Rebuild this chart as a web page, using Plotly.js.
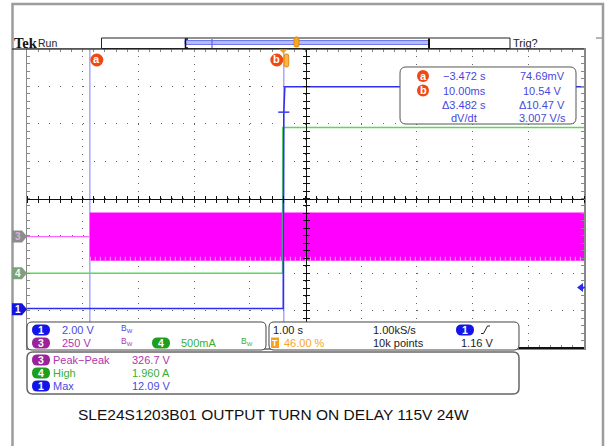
<!DOCTYPE html>
<html><head><meta charset="utf-8">
<script src="https://cdn.plot.ly/plotly-3.0.1.min.js"></script>
<style>html,body{margin:0;padding:0;background:#fff;overflow:hidden}#c{width:607px;height:446px}</style>
</head><body><div id="c"></div>
<script>
// ---------- values read from the scope capture ----------
const secPerDiv = 1.0;
const trigPosPct = 46.0;
const ch1VoltsPerDiv = 2.0, ch3VoltsPerDiv = 250, ch4AmpsPerDiv = 0.5;
const ch1OffsetDiv = -2.96, ch3OffsetDiv = -1.02, ch4OffsetDiv = -2.0;

const ch1Time  = [-4.6, 0.0, 0.004, 0.010, 0.030, 5.4];
const ch1Volts = [0.03, 0.03, 6.0, 10.54, 11.9, 11.9];

const ch4Time = [-4.6, -0.012, -0.008, 5.4];
const ch4Amps = [0.0, 0.0, 1.95, 1.95];

const ch3IdleTime  = [-4.6, -3.472];
const ch3IdleVolts = [0, 0];
const ch3BandTime  = [-3.472, 5.4];
const ch3BandHigh  = [162, 162];
const ch3BandLow   = [-162, -162];

const cursorTime = [-3.472, 0.010];
const cursorLabel = ['a', 'b'];
const cursorCh1Volts = [0.07469, 10.54];
const trigTime = 0.0;
const trigLevelVolts = 1.16;

const readIcon = ['a', 'b', '', ''];
const readCol2 = ['\u22123.472 s', '10.00ms', '\u03943.482 s', 'dV/dt'];
const readCol3 = ['74.69mV', '10.54 V', '\u039410.47 V', '3.007 V/s'];

const scaleCh   = ['1', '3', '4'];
const scaleText = ['2.00 V', '250 V', '500mA'];

const horizText = ['1.00 s', '46.00 %', '1.00kS/s', '10k points', '1.16 V'];

const measCh    = ['3', '4', '1'];
const measName  = ['Peak\u2212Peak', 'High', 'Max'];
const measValue = ['326.7 V', '1.960 A', '12.09 V'];

const titleText = 'SLE24S1203B01 OUTPUT TURN ON DELAY 115V 24W';

// ---------- helpers ----------
const L = 27, R = 584, T = 49, B = 348;
const px = x => (x - L) / (R - L);
const py = y => (B - y) / (B - T);
const tCenter = (50 - trigPosPct) / 100 * 10 * secPerDiv;
const tDiv = t => (t - tCenter) / secPerDiv;
const v1 = v => v / ch1VoltsPerDiv + ch1OffsetDiv;
const v3 = v => v / ch3VoltsPerDiv + ch3OffsetDiv;
const i4 = a => a / ch4AmpsPerDiv + ch4OffsetDiv;

const chColor = {'1': '#1414e8', '3': '#9c229c', '4': '#1e9e1e'};
const chText  = {'1': '#4a4ae0', '3': '#b036b0', '4': '#36b036'};
const FONT = 'Liberation Sans, Arial, sans-serif';

const shapes = [];
const ann = [];
function P(x, y) { return px(x).toFixed(5) + ',' + py(y).toFixed(5); }
function poly(pts, close) { return pts.map((p, i) => (i ? 'L' : 'M') + P(p[0], p[1])).join('') + (close ? 'Z' : ''); }
function rr(x0, y0, x1, y1, r) {
  return 'M' + P(x0 + r, y0) + 'L' + P(x1 - r, y0) + 'Q' + P(x1, y0) + ' ' + P(x1, y0 + r) +
    'L' + P(x1, y1 - r) + 'Q' + P(x1, y1) + ' ' + P(x1 - r, y1) + 'L' + P(x0 + r, y1) +
    'Q' + P(x0, y1) + ' ' + P(x0, y1 - r) + 'L' + P(x0, y0 + r) + 'Q' + P(x0, y0) + ' ' + P(x0 + r, y0) + 'Z';
}
function path(d, fill, lc, lw, layer) {
  shapes.push({type: 'path', xref: 'paper', yref: 'paper', path: d, fillcolor: fill || 'rgba(0,0,0,0)',
    line: {color: lc || 'rgba(0,0,0,0)', width: lw === undefined ? 1 : lw}, layer: layer || 'above'});
}
function line(x0, y0, x1, y1, c, w) {
  shapes.push({type: 'line', xref: 'paper', yref: 'paper', x0: px(x0), x1: px(x1), y0: py(y0), y1: py(y1),
    line: {color: c, width: w}, layer: 'above'});
}
function rect(x0, y0, x1, y1, fill, lc, lw) {
  shapes.push({type: 'rect', xref: 'paper', yref: 'paper', x0: px(x0), x1: px(x1), y0: py(y1), y1: py(y0),
    fillcolor: fill || 'rgba(0,0,0,0)', line: {color: lc || 'rgba(0,0,0,0)', width: lw || 0}, layer: 'above'});
}
function circ(cx, cy, r, fill) {
  shapes.push({type: 'circle', xref: 'paper', yref: 'paper', x0: px(cx - r), x1: px(cx + r), y0: py(cy + r), y1: py(cy - r),
    fillcolor: fill, line: {width: 0}, layer: 'above'});
}
function txt(x, y, text, size, color, anchor, family) {
  ann.push({xref: 'paper', yref: 'paper', x: px(x), y: py(y), text: text, showarrow: false,
    xanchor: anchor || 'left', yanchor: 'middle', borderpad: 0,
    font: {family: family || FONT, size: size, color: color}});
}
function pill(cx, cy, ch) {
  path(rr(cx - 9, cy - 5.5, cx + 9, cy + 5.5, 5.5), chColor[ch], chColor[ch], 0);
  txt(cx, cy, '<b>' + ch + '</b>', 10.5, '#ffffff', 'center');
}

// ---------- frame and top bar ----------
path(poly([[12.5, 470], [12.5, 4], [603, 4], [603, 470]], false), null, '#9c9c9c', 2.5);
line(596, 38, 603, 38, '#9c9c9c', 1.5);
line(12, 49, 584, 49, '#444', 1.5);
txt(13, 43, '<b>Tek</b>', 14.5, '#111', 'left', 'Liberation Serif, serif');
txt(37, 43, 'Run', 10.5, '#222');
rect(101.5, 38, 510, 48.5, '#fff', '#222', 1);
rect(185, 40.5, 429, 44.5, '#b4bcf6', '#7078ee', 1);
line(212, 39, 212, 48, '#5b64ee', 1.2);
path(poly([[188, 39], [185.5, 39], [185.5, 48], [188, 48]], false), null, '#111', 1.5);
line(429, 38.5, 429, 48, '#111', 2);
path(rr(294, 37, 299, 47, 2), '#f5a623', '#d98a10', 1);
txt(512, 43.5, 'Trig?', 11, '#222');

// cursor labels
cursorTime.forEach((t, k) => {
  const xPix = L + (tDiv(t) + 5) / 10 * (R - L);
  const cx = k === 0 ? xPix + 7 : xPix - 7;
  circ(cx, 60, 6.5, '#f04812');
  txt(cx, 59.5, '<b>' + cursorLabel[k] + '</b>', 11, '#fff', 'center');
});
// trigger marker
{
  const tp = L + (tDiv(trigTime) + 5) / 10 * (R - L);
  path(poly([[tp - 4, 49.5], [tp + 4, 49.5], [tp, 53.5]], true), '#f5a020', '#f5a020', 0);
  path(rr(tp + 1, 54, tp + 5.5, 67, 2), '#f7b545', '#e08c10', 1);
}

// left channel markers
function chMarker(yDiv, ch, fill, tc) {
  const yPix = (B + T) / 2 - yDiv * (B - T) / 8;
  path(poly([[12, yPix - 6], [22, yPix - 6], [27, yPix], [22, yPix + 6], [12, yPix + 6]], true), fill, fill, 0);
  txt(18, yPix, '<b>' + ch + '</b>', 10, tc, 'center');
}
chMarker(ch3OffsetDiv, '3', '#8c8c8c', '#d7b4d7');
chMarker(ch4OffsetDiv, '4', '#7f9f7f', '#e8ffe8');
chMarker(ch1OffsetDiv, '1', '#1414e0', '#ffffff');

// trigger level arrow (right edge)
{
  const yPix = (B + T) / 2 - v1(trigLevelVolts) * (B - T) / 8;
  path(poly([[577, yPix], [583, yPix - 4.5], [583, yPix + 4.5]], true), '#2a2af0', '#2a2af0', 0);
  line(580, yPix, 585, yPix, '#2a2af0', 1.5);
}

// graticule bottom-right heavy edge
line(519, 348, 584, 348, '#111', 2);

// cursor lines (between grid and traces)
cursorTime.forEach(t => {
  shapes.push({type: 'line', xref: 'x', yref: 'paper', x0: tDiv(t), x1: tDiv(t), y0: 0, y1: 1,
    line: {color: '#a4aaff', width: 1.5}, layer: 'between'});
});
// cursor b crossing tick on ch1
shapes.push({type: 'line', xref: 'x', yref: 'y', x0: tDiv(cursorTime[1]) - 0.1, x1: tDiv(cursorTime[1]) + 0.1,
  y0: v1(cursorCh1Volts[1]), y1: v1(cursorCh1Volts[1]), line: {color: '#3a3aee', width: 1.5}, layer: 'above'});

// ---------- cursor readout box ----------
path(rr(400, 67, 576, 124, 6), '#ffffff', '#555', 1);
const rowY = [76, 90.5, 104.5, 118];
for (let k = 0; k < 4; k++) {
  if (readIcon[k]) { circ(423, rowY[k], 6, '#f04812'); txt(423, rowY[k] - 0.5, '<b>' + readIcon[k] + '</b>', 11, '#fff', 'center'); }
  txt(464, rowY[k], readCol2[k], 11, '#4848dc', 'center');
  txt(542, rowY[k], readCol3[k], 11, '#4848dc', 'center');
}

// ---------- channel scale box ----------
path(rr(27, 322, 266, 350, 5), '#ffffff', '#444', 1);
pill(41, 330, scaleCh[0]);
txt(61, 330, scaleText[0], 11, chText['1']);
txt(120, 328.5, 'B<sub>W</sub>', 8.5, chText['1']);
pill(41, 343, scaleCh[1]);
txt(61, 343, scaleText[1], 11, chText['3']);
txt(120, 341.5, 'B<sub>W</sub>', 8.5, chText['3']);
pill(161, 343, scaleCh[2]);
txt(180, 343, scaleText[2], 11, chText['4']);
txt(240, 341.5, 'B<sub>W</sub>', 8.5, chText['4']);

// ---------- horizontal / trigger box ----------
path(rr(269, 322, 519, 350, 5), '#ffffff', '#444', 1);
txt(272, 330, horizText[0], 11, '#222');
rect(271, 337.5, 279, 348, '#f5a020', '#f5a020', 0);
txt(275, 343, '<b>T</b>', 8.5, '#fff', 'center');
txt(283, 343, horizText[1], 11, '#f5a623');
txt(372, 330, horizText[2], 11, '#222');
txt(372, 343, horizText[3], 11, '#222');
pill(465, 330, '1');
path(poly([[481, 333.5], [483.5, 333.5], [487.5, 326], [490, 326]], false), null, '#222', 1);
txt(460, 343, horizText[4], 11, '#222');

// ---------- measurement box ----------
path(rr(27, 352, 519, 394, 6), '#ffffff', '#666', 1.5);
const measY = [360, 373, 386];
for (let k = 0; k < 3; k++) {
  pill(41, measY[k], measCh[k]);
  txt(52, measY[k], measName[k], 11, chText[measCh[k]]);
  txt(131, measY[k], measValue[k], 11, chText[measCh[k]]);
}

// ---------- caption ----------
txt(77, 414, titleText, 15.5, '#111');

// ---------- traces ----------
const traces = [
  {x: ch3BandTime.map(tDiv), y: ch3BandLow.map(v3), mode: 'lines', line: {width: 0, color: '#ff00ff'}, hoverinfo: 'skip'},
  {x: ch3BandTime.map(tDiv), y: ch3BandHigh.map(v3), mode: 'lines', fill: 'tonexty', fillcolor: '#ff00ff', line: {width: 0, color: '#ff00ff'}, hoverinfo: 'skip'},
  // lighter sparse streaks along the band's lower edge (texture of the sampled sine minima)
  {x: ch3BandTime.map(tDiv), y: ch3BandLow.map(v => v3(v + 14)), mode: 'lines', line: {width: 4, color: '#ffa6ff', dash: '1px,4px'}, hoverinfo: 'skip'},
  {x: ch3IdleTime.map(tDiv), y: ch3IdleVolts.map(v3), mode: 'lines', line: {width: 1.2, color: '#ff66ff'}, hoverinfo: 'skip'},
  {x: ch4Time.map(tDiv), y: ch4Amps.map(i4), mode: 'lines', line: {width: 1.5, color: '#5ad85a'}, hoverinfo: 'skip'},
  {x: ch1Time.map(tDiv), y: ch1Volts.map(v1), mode: 'lines', line: {width: 1.5, color: '#2f2ff2'}, hoverinfo: 'skip'},
  {x: [], y: [], xaxis: 'x2', yaxis: 'y2', hoverinfo: 'skip'},
  {x: [], y: [], xaxis: 'x3', yaxis: 'y', hoverinfo: 'skip'},
  {x: [], y: [], xaxis: 'x4', yaxis: 'y', hoverinfo: 'skip'},
  {x: [], y: [], xaxis: 'x', yaxis: 'y3', hoverinfo: 'skip'},
  {x: [], y: [], xaxis: 'x', yaxis: 'y4', hoverinfo: 'skip'}
];

const base = {showticklabels: false, zeroline: false, fixedrange: true};
const layout = {
  width: 607, height: 446, showlegend: false,
  margin: {l: L, r: 607 - R, t: T, b: 446 - B, pad: 0},
  paper_bgcolor: '#ffffff', plot_bgcolor: '#ffffff',
  xaxis: Object.assign({}, base, {range: [-5, 5], showline: true, linecolor: '#888', linewidth: 1.5, mirror: 'ticks',
    ticks: 'inside', ticklen: 3, tickcolor: '#888', tickwidth: 1, dtick: 0.2, tick0: 0, showgrid: false}),
  yaxis: Object.assign({}, base, {range: [-4, 4], showline: true, linecolor: '#888', linewidth: 1.5, mirror: 'ticks',
    ticks: 'inside', ticklen: 3, tickcolor: '#888', tickwidth: 1, dtick: 0.2, tick0: 0, showgrid: false}),
  xaxis2: Object.assign({}, base, {overlaying: 'x', anchor: 'y2', range: [-5, 5], dtick: 1, tick0: 0, showgrid: true,
    gridcolor: '#666', gridwidth: 1, griddash: '1px,6.47px', showline: false, ticks: ''}),
  yaxis2: Object.assign({}, base, {overlaying: 'y', anchor: 'x2', range: [-4, 4], dtick: 1, tick0: 0, showgrid: true,
    gridcolor: '#666', gridwidth: 1, griddash: '1px,10.14px', showline: false, ticks: ''}),
  xaxis3: Object.assign({}, base, {overlaying: 'x', anchor: 'free', position: 0.5, side: 'bottom', range: [-5, 5],
    showline: true, linecolor: '#111', linewidth: 1, ticks: 'outside', ticklen: 3, tickcolor: '#111', dtick: 0.2, tick0: 0, showgrid: false}),
  xaxis4: Object.assign({}, base, {overlaying: 'x', anchor: 'free', position: 0.5, side: 'top', range: [-5, 5],
    showline: false, ticks: 'outside', ticklen: 3, tickcolor: '#111', dtick: 0.2, tick0: 0, showgrid: false}),
  yaxis3: Object.assign({}, base, {overlaying: 'y', anchor: 'free', position: 0.5, side: 'left', range: [-4, 4],
    showline: true, linecolor: '#111', linewidth: 1, ticks: 'outside', ticklen: 3, tickcolor: '#111', dtick: 0.2, tick0: 0, showgrid: false}),
  yaxis4: Object.assign({}, base, {overlaying: 'y', anchor: 'free', position: 0.5, side: 'right', range: [-4, 4],
    showline: false, ticks: 'outside', ticklen: 3, tickcolor: '#111', dtick: 0.2, tick0: 0, showgrid: false}),
  shapes: shapes,
  annotations: ann
};

Plotly.newPlot('c', traces, layout, {displayModeBar: false, staticPlot: true});
</script>
</body></html>
